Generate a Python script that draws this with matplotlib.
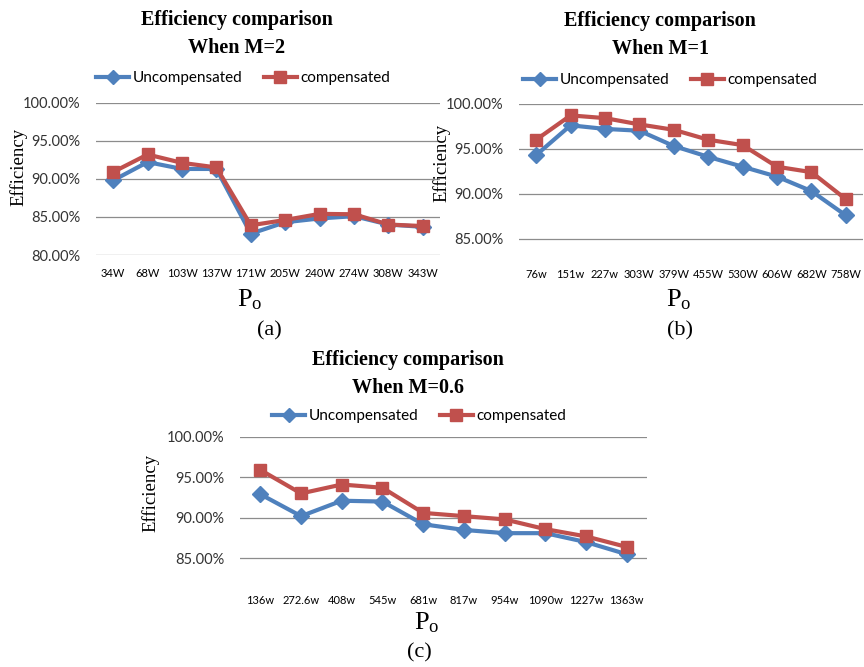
import matplotlib.pyplot as plt
from matplotlib.ticker import FuncFormatter

labels_a = ["34W", "68W", "103W", "137W", "171W", "205W", "240W", "274W", "308W", "343W"]
uncomp_a = [89.8, 92.2, 91.3, 91.3, 82.8, 84.3, 84.8, 85.1, 84.0, 83.7]
comp_a = [90.9, 93.2, 92.1, 91.5, 83.9, 84.6, 85.4, 85.35, 84.0, 83.8]

labels_b = ["76w", "151w", "227w", "303W", "379W", "455W", "530W", "606W", "682W", "758W"]
uncomp_b = [94.3, 97.6, 97.2, 97.0, 95.3, 94.1, 93.0, 91.9, 90.3, 87.6]
comp_b = [96.0, 98.7, 98.4, 97.7, 97.1, 96.0, 95.4, 93.0, 92.4, 89.4]

labels_c = ["136w", "272.6w", "408w", "545w", "681w", "817w", "954w", "1090w", "1227w", "1363w"]
uncomp_c = [92.9, 90.2, 92.1, 92.0, 89.2, 88.5, 88.1, 88.1, 87.0, 85.5]
comp_c = [95.9, 93.0, 94.1, 93.7, 90.6, 90.2, 89.8, 88.6, 87.7, 86.4]

W, H = 864, 667
BLUE = "#4F81BD"
RED = "#C0504D"
SERIF = "Liberation Serif"
SANS = "Lato"

plt.rcParams["mathtext.fontset"] = "custom"
plt.rcParams["mathtext.rm"] = SERIF


def fx(px):
    return px / W


def fy(py):
    return 1 - py / H


fig = plt.figure(figsize=(W / 100, H / 100), dpi=100)


def panel(left, right, top, bottom, ylim, yticks, labels, unc, comp,
          title, title_x, title_y, leg_x, leg_y, ylab_x, ylab_y,
          po_x, po_y, tag, tag_x, tag_y):
    ax = fig.add_axes([fx(left), fy(bottom), fx(right) - fx(left), fy(top) - fy(bottom)])
    x = range(len(labels))
    ax.plot(x, unc, color=BLUE, lw=3, marker="D", ms=8, label="Uncompensated")
    ax.plot(x, comp, color=RED, lw=3, marker="s", ms=9, label="compensated")
    ax.set_xlim(-0.5, len(labels) - 0.5)
    ax.set_ylim(*ylim)
    ax.set_yticks(yticks)
    ax.yaxis.set_major_formatter(FuncFormatter(lambda v, p: f"{v:.2f}%"))
    ax.set_xticks(list(x))
    ax.set_xticklabels(labels, fontfamily=SANS, fontsize=8)
    for t in ax.get_yticklabels():
        t.set_fontfamily(SANS)
        t.set_fontsize(10.5)
        t.set_color("#333333")
    ax.tick_params(axis="both", length=0)
    ax.tick_params(axis="y", pad=11)
    ax.tick_params(axis="x", pad=9)
    ax.grid(axis="y", color="#8C8C8C", lw=0.9)
    ax.set_axisbelow(True)
    for s in ax.spines.values():
        s.set_visible(False)
    fig.text(fx(title_x), fy(title_y), title, ha="center", va="center",
             fontfamily=SERIF, fontweight="bold", fontsize=14.5, linespacing=1.55)
    ax.legend(loc="center", bbox_to_anchor=(fx(leg_x), fy(leg_y)),
              bbox_transform=fig.transFigure, ncol=2, frameon=False,
              prop={"family": SANS, "size": 11}, handlelength=2.2,
              handletextpad=0.2, columnspacing=1.4, markerscale=0.9)
    fig.text(fx(ylab_x), fy(ylab_y), "Efficiency", rotation=90, ha="center",
             va="center", fontfamily=SERIF, fontsize=13.5)
    fig.text(fx(po_x), fy(po_y), r"$\mathregular{P_o}$", ha="center", va="center",
             fontfamily=SERIF, fontsize=19)
    fig.text(fx(tag_x), fy(tag_y), tag, ha="center", va="center",
             fontfamily=SERIF, fontsize=16)
    return ax


panel(96, 440, 102.7, 255, (80, 100), [80, 85, 90, 95, 100],
      labels_a, uncomp_a, comp_a,
      "Efficiency comparison\nWhen M=2", 237, 34, 243, 78, 19, 167,
      250, 300, "(a)", 269, 331)
panel(519, 863, 103.7, 256.8, (83, 100), [85, 90, 95, 100],
      labels_b, uncomp_b, comp_b,
      "Efficiency comparison\nWhen M=1", 660, 35, 670, 80, 442, 163,
      679, 300, "(b)", 680, 331)
panel(240, 647, 436.7, 582.6, (82, 100), [85, 90, 95, 100],
      labels_c, uncomp_c, comp_c,
      "Efficiency comparison\nWhen M=0.6", 408, 374, 419, 416, 151, 493,
      427, 623, "(c)", 419, 653)

fig.savefig("out.png", dpi=100)
